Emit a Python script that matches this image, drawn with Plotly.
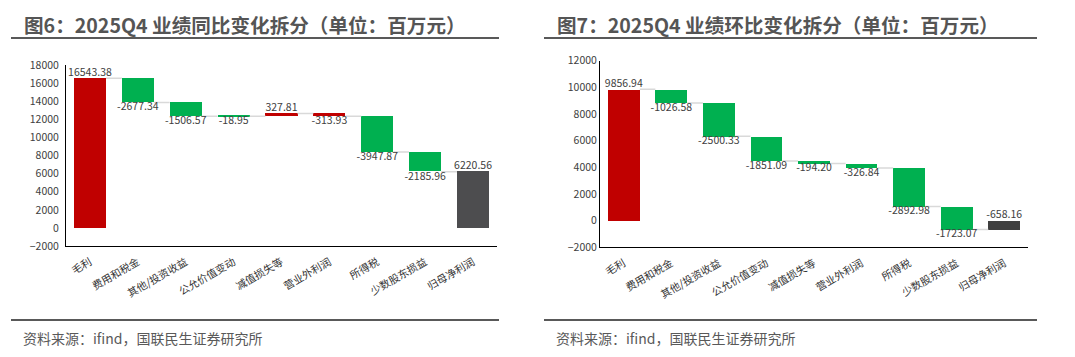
import plotly.graph_objects as go

W, H = 1075, 357

categories = ['毛利', '费用和税金', '其他/投资收益', '公允价值变动', '减值损失等',
              '营业外利润', '所得税', '少数股东损益', '归母净利润']
yoy_values = [16543.38, -2677.34, -1506.57, -18.95, 327.81, -313.93, -3947.87, -2185.96, 6220.56]
qoq_values = [9856.94, -1026.58, -2500.33, -1851.09, -194.20, -326.84, -2892.98, -1723.07, -658.16]

RED, GREEN = '#C00000', '#00B050'
yoy_colors = [RED, GREEN, GREEN, GREEN, RED, RED, GREEN, GREEN, '#4D4D4F']
qoq_colors = [RED, GREEN, GREEN, GREEN, GREEN, GREEN, GREEN, GREEN, '#404040']

title_left = '图6：2025Q4 业绩同比变化拆分（单位：百万元）'
title_right = '图7：2025Q4 业绩环比变化拆分（单位：百万元）'
source_text = '资料来源：ifind，国联民生证券研究所'

FONT = 'Noto Sans CJK SC'
BW = 0.67

fig = go.Figure()


def px_x(p):
    return p / W


def px_y(p):
    return 1 - p / H


def add_waterfall(values, colors, xa, ya):
    n = len(values)
    bases, heights, ends = [], [], []
    cum = 0.0
    for i, v in enumerate(values):
        if i == n - 1:
            bases.append(0.0)
            heights.append(v)
            ends.append(v)
        else:
            bases.append(cum)
            heights.append(v)
            cum += v
            ends.append(cum)
    xs = list(range(n))
    fig.add_trace(go.Bar(x=xs, y=heights, base=bases, marker=dict(color=colors, line=dict(width=0)),
                         width=BW, xaxis=xa, yaxis=ya, showlegend=False, hoverinfo='skip'))
    # connectors
    cx, cy = [], []
    for i in range(n - 1):
        cx += [i + BW / 2, i + 1 - BW / 2, None]
        cy += [ends[i], ends[i], None]
    fig.add_trace(go.Scatter(x=cx, y=cy, mode='lines', line=dict(color='#D9D9D9', width=1.5),
                             xaxis=xa, yaxis=ya, showlegend=False, hoverinfo='skip'))
    # labels
    ly, lpos = [], []
    for i, v in enumerate(values):
        if i == n - 1:
            ly.append(max(0.0, v))
            lpos.append('top center')
        else:
            ly.append(bases[i] + v)
            lpos.append('top center' if v >= 0 else 'bottom center')
    fig.add_trace(go.Scatter(x=xs, y=ly, mode='text', text=[f'{v:.2f}' for v in values],
                             textposition=lpos, textfont=dict(family=FONT, size=10.5, color='#404040'),
                             xaxis=xa, yaxis=ya, showlegend=False, hoverinfo='skip', cliponaxis=False))


add_waterfall(yoy_values, yoy_colors, 'x', 'y')
add_waterfall(qoq_values, qoq_colors, 'x2', 'y2')

xcommon = dict(range=[-0.5, 8.5], tickmode='array', tickvals=list(range(9)), ticktext=categories,
               tickangle=-30, showline=True, linecolor='#000000', linewidth=1, ticks='',
               showgrid=False, zeroline=False, automargin=False, ticklabelstandoff=5,
               tickfont=dict(family=FONT, size=10.5, color='#333333'))
ycommon = dict(showline=True, linecolor='#000000', linewidth=1, ticks='', showgrid=False,
               zeroline=False, tickformat='d', dtick=2000, automargin=False,
               tickfont=dict(family=FONT, size=10.5, color='#404040'))

fig.update_layout(
    width=W, height=H, margin=dict(l=0, r=0, t=0, b=0, autoexpand=False),
    paper_bgcolor='white', plot_bgcolor='white', bargap=0,
    xaxis=dict(domain=[px_x(66), px_x(497)], anchor='y', **xcommon),
    yaxis=dict(domain=[px_y(246), px_y(65.2)], range=[-2000, 18000], anchor='x',
               ticklabelstandoff=4, **ycommon),
    xaxis2=dict(domain=[px_x(600), px_x(1028)], anchor='y2', **xcommon),
    yaxis2=dict(domain=[px_y(247.4), px_y(60.7)], range=[-2000, 12000], anchor='x2', **ycommon),
)

shapes = []
annotations = []
for (x0, x1, tx, title) in [(11, 499, 22, title_left), (544, 1037, 555, title_right)]:
    shapes.append(dict(type='line', xref='paper', yref='paper', x0=px_x(x0), x1=px_x(x1),
                       y0=px_y(38), y1=px_y(38), line=dict(color='#595959', width=2)))
    shapes.append(dict(type='line', xref='paper', yref='paper', x0=px_x(x0), x1=px_x(x1),
                       y0=px_y(320), y1=px_y(320), line=dict(color='#595959', width=2)))
    annotations.append(dict(xref='paper', yref='paper', x=px_x(tx), y=px_y(25), text=f'<b>{title}</b>',
                            showarrow=False, xanchor='left', yanchor='middle',
                            font=dict(family=FONT, size=19.6, color='#555555')))
    annotations.append(dict(xref='paper', yref='paper', x=px_x(tx - 1), y=px_y(338), text=source_text,
                            showarrow=False, xanchor='left', yanchor='middle',
                            font=dict(family=FONT, size=14, color='#595959')))

fig.update_layout(shapes=shapes, annotations=annotations)
fig.write_html('out.html', config={'displayModeBar': False},
               post_script="document.body.style.margin='0';document.body.style.padding='0';")
